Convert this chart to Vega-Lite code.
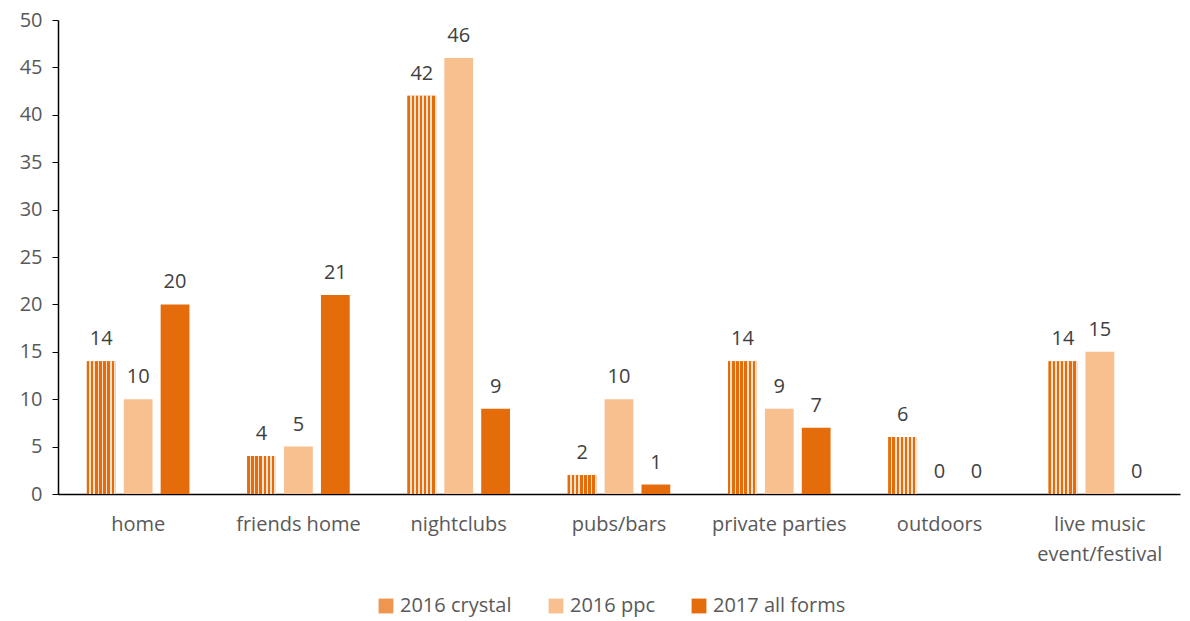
{
  "$schema": "https://vega.github.io/schema/vega-lite/v6.json",
  "width": 1122,
  "height": 474,
  "autosize": {"type": "none"},
  "padding": {"left": 58, "top": 20, "right": 10, "bottom": 127},
  "background": "white",
  "config": {
    "font": "Open Sans",
    "view": {"stroke": null},
    "text": {"font": "Open Sans"}
  },
  "data": {
    "values": [
      {"place": "home", "series": "2016 crystal", "value": 14},
      {"place": "home", "series": "2016 ppc", "value": 10},
      {"place": "home", "series": "2017 all forms", "value": 20},
      {"place": "friends home", "series": "2016 crystal", "value": 4},
      {"place": "friends home", "series": "2016 ppc", "value": 5},
      {"place": "friends home", "series": "2017 all forms", "value": 21},
      {"place": "nightclubs", "series": "2016 crystal", "value": 42},
      {"place": "nightclubs", "series": "2016 ppc", "value": 46},
      {"place": "nightclubs", "series": "2017 all forms", "value": 9},
      {"place": "pubs/bars", "series": "2016 crystal", "value": 2},
      {"place": "pubs/bars", "series": "2016 ppc", "value": 10},
      {"place": "pubs/bars", "series": "2017 all forms", "value": 1},
      {"place": "private parties", "series": "2016 crystal", "value": 14},
      {"place": "private parties", "series": "2016 ppc", "value": 9},
      {"place": "private parties", "series": "2017 all forms", "value": 7},
      {"place": "outdoors", "series": "2016 crystal", "value": 6},
      {"place": "outdoors", "series": "2016 ppc", "value": 0},
      {"place": "outdoors", "series": "2017 all forms", "value": 0},
      {"place": "live music event/festival", "series": "2016 crystal", "value": 14},
      {"place": "live music event/festival", "series": "2016 ppc", "value": 15},
      {"place": "live music event/festival", "series": "2017 all forms", "value": 0}
    ]
  },
  "encoding": {
    "x": {
      "field": "place",
      "type": "nominal",
      "sort": null,
      "title": null,
      "scale": {"paddingInner": 0.36, "paddingOuter": 0.18},
      "axis": {
        "labelAngle": 0,
        "labelFontSize": 20,
        "labelColor": "#595959",
        "labelPadding": 20,
        "labelLineHeight": 30,
        "labelExpr": "datum.label == 'live music event/festival' ? ['live music', 'event/festival'] : datum.label",
        "ticks": false,
        "domainColor": "#000000",
        "domainWidth": 1.5,
        "labelFont": "Open Sans"
      }
    },
    "xOffset": {
      "field": "series",
      "type": "nominal",
      "scale": {"domain": ["2016 crystal", "2016 ppc", "2017 all forms"], "paddingInner": 0.22}
    },
    "y": {
      "field": "value",
      "type": "quantitative",
      "title": null,
      "scale": {"domain": [0, 50], "nice": false},
      "axis": {
        "values": [0, 5, 10, 15, 20, 25, 30, 35, 40, 45, 50],
        "grid": false,
        "labelFontSize": 20,
        "labelColor": "#595959",
        "labelPadding": 10,
        "tickColor": "#000000",
        "tickSize": 6,
        "domainColor": "#000000",
        "domainWidth": 1.5,
        "labelFont": "Open Sans"
      }
    }
  },
  "layer": [
    {
      "mark": {"type": "bar"},
      "encoding": {
        "color": {
          "field": "series",
          "type": "nominal",
          "scale": {
            "domain": ["2016 crystal", "2016 ppc", "2017 all forms"],
            "range": ["#EE9550", "#F8BF8F", "#E46C0A"]
          },
          "legend": {
            "orient": "none",
            "legendX": 318,
            "legendY": 576,
            "direction": "horizontal",
            "title": null,
            "symbolType": "square",
            "symbolSize": 220,
            "labelFontSize": 20,
            "labelColor": "#595959",
            "columnPadding": 34,
            "symbolStrokeWidth": 0,
            "labelFont": "Open Sans"
          }
        }
      }
    },
    {
      "transform": [{"filter": "datum.series == '2016 crystal'"}],
      "mark": {
        "type": "bar",
        "fill": {
          "gradient": "linear",
          "x1": 0, "y1": 0, "x2": 1, "y2": 0,
          "stops": [
            {"offset": 0, "color": "#E46C0A"},
            {"offset": 0.086, "color": "#E46C0A"},
            {"offset": 0.086, "color": "#FCE2CC"},
            {"offset": 0.143, "color": "#FCE2CC"},
            {"offset": 0.143, "color": "#E46C0A"},
            {"offset": 0.229, "color": "#E46C0A"},
            {"offset": 0.229, "color": "#FCE2CC"},
            {"offset": 0.286, "color": "#FCE2CC"},
            {"offset": 0.286, "color": "#E46C0A"},
            {"offset": 0.371, "color": "#E46C0A"},
            {"offset": 0.371, "color": "#FCE2CC"},
            {"offset": 0.429, "color": "#FCE2CC"},
            {"offset": 0.429, "color": "#E46C0A"},
            {"offset": 0.514, "color": "#E46C0A"},
            {"offset": 0.514, "color": "#FCE2CC"},
            {"offset": 0.571, "color": "#FCE2CC"},
            {"offset": 0.571, "color": "#E46C0A"},
            {"offset": 0.657, "color": "#E46C0A"},
            {"offset": 0.657, "color": "#FCE2CC"},
            {"offset": 0.714, "color": "#FCE2CC"},
            {"offset": 0.714, "color": "#E46C0A"},
            {"offset": 0.8, "color": "#E46C0A"},
            {"offset": 0.8, "color": "#FCE2CC"},
            {"offset": 0.857, "color": "#FCE2CC"},
            {"offset": 0.857, "color": "#E46C0A"},
            {"offset": 0.943, "color": "#E46C0A"},
            {"offset": 0.943, "color": "#FCE2CC"},
            {"offset": 1, "color": "#FCE2CC"}
          ]
        }
      },
      "encoding": {}
    },
    {
      "mark": {
        "type": "text",
        "baseline": "bottom",
        "dy": -12,
        "fontSize": 20,
        "color": "#404040"
      },
      "encoding": {
        "text": {"field": "value", "type": "quantitative"}
      }
    }
  ]
}
